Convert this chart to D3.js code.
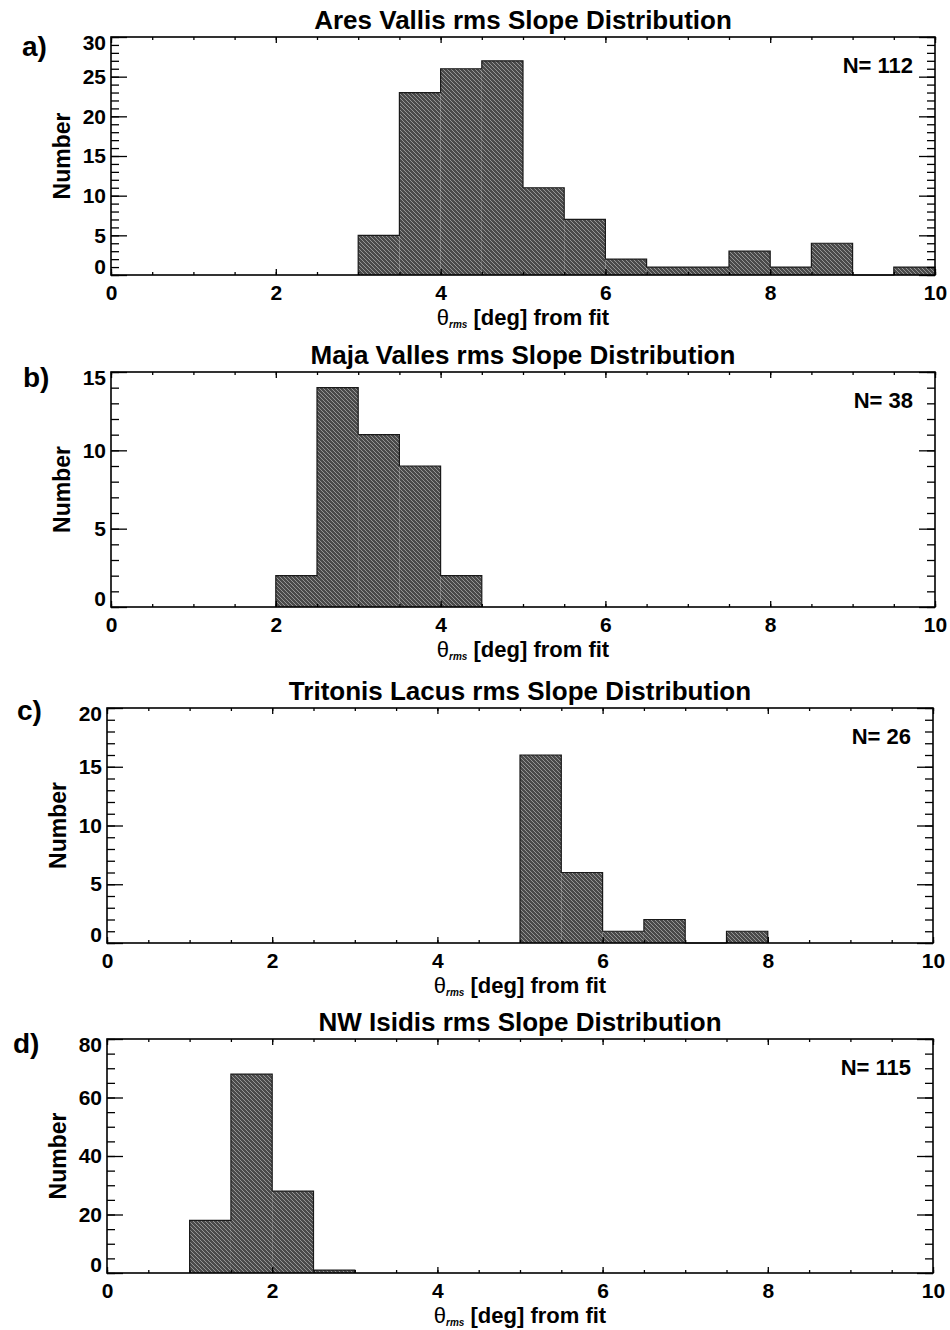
<!DOCTYPE html>
<html>
<head>
<meta charset="utf-8">
<script src="https://cdn.jsdelivr.net/npm/d3@7"></script>
<style>
  body { margin: 0; background: #fff; }
  svg text { font-family: "Liberation Sans", Arial, Helvetica, sans-serif; fill: #000; }
</style>
</head>
<body>
<div id="chart"></div>
<script>
// histogram data (bin left edges, 0.5 deg wide)
const binWidth = 0.5;

const aresBins = [3.0, 3.5, 4.0, 4.5, 5.0, 5.5, 6.0, 6.5, 7.0, 7.5, 8.0, 8.5, 9.0, 9.5];
const aresCounts = [5, 23, 26, 27, 11, 7, 2, 1, 1, 3, 1, 4, 0, 1];

const majaBins = [2.0, 2.5, 3.0, 3.5, 4.0];
const majaCounts = [2, 14, 11, 9, 2];

const tritonisBins = [5.0, 5.5, 6.0, 6.5, 7.0, 7.5];
const tritonisCounts = [16, 6, 1, 2, 0, 1];

const isidisBins = [1.0, 1.5, 2.0, 2.5];
const isidisCounts = [18, 68, 28, 1];

const titles = [
  "Ares Vallis rms Slope Distribution",
  "Maja Valles rms Slope Distribution",
  "Tritonis Lacus rms Slope Distribution",
  "NW Isidis rms Slope Distribution"
];
const tags = ["a)", "b)", "c)", "d)"];
const totals = [112, 38, 26, 115];

const xTicks = [0, 2, 4, 6, 8, 10];
const aresYTicks = [0, 5, 10, 15, 20, 25, 30];
const majaYTicks = [0, 5, 10, 15];
const tritonisYTicks = [0, 5, 10, 15, 20];
const isidisYTicks = [0, 20, 40, 60, 80];

// layout of the four stacked panels
var panels = [
  {bins: aresBins, counts: aresCounts, yTicks: aresYTicks, minor: 1, left: 111, right: 935, top: 37, h: 238, tagX: 22, tagY: 56},
  {bins: majaBins, counts: majaCounts, yTicks: majaYTicks, minor: 1, left: 111, right: 935, top: 372, h: 235, tagX: 23, tagY: 387},
  {bins: tritonisBins, counts: tritonisCounts, yTicks: tritonisYTicks, minor: 1, left: 107, right: 933, top: 708, h: 235, tagX: 17, tagY: 720},
  {bins: isidisBins, counts: isidisCounts, yTicks: isidisYTicks, minor: 5, left: 107, right: 933, top: 1039, h: 234, tagX: 13, tagY: 1053}
];

var svg = d3.select("#chart").append("svg")
  .attr("width", 950)
  .attr("height", 1330);

svg.append("rect").attr("width", 950).attr("height", 1330).attr("fill", "#fff");

// stippled grey fill like the printed histogram
var pat = svg.append("defs").append("pattern")
  .attr("id", "stipple")
  .attr("patternUnits", "userSpaceOnUse")
  .attr("width", 4).attr("height", 4);
pat.append("rect").attr("width", 4).attr("height", 4).attr("fill", "#4a4a4a");
pat.append("path")
  .attr("d", "M0,0 L4,4 M-1,3 L1,5 M3,-1 L5,1")
  .attr("stroke", "#959595").attr("stroke-width", 1);

panels.forEach(function(p, i) {
  var width = p.right - p.left;
  var height = p.h;
  var yMax = p.yTicks[p.yTicks.length - 1];

  var g = svg.append("g").attr("transform", "translate(" + p.left + "," + p.top + ")");

  var x = d3.scaleLinear().domain([0, 10]).range([0, width]);
  var y = d3.scaleLinear().domain([0, yMax]).range([height, 0]);

  var data = p.bins.map(function(b, j) { return {x0: b, n: p.counts[j]}; });

  // bars
  g.selectAll("rect.bar")
    .data(data)
    .enter()
    .append("rect")
    .attr("class", "bar")
    .attr("x", function(d) { return x(d.x0); })
    .attr("width", function(d) { return x(d.x0 + binWidth) - x(d.x0); })
    .attr("y", function(d) { return y(d.n); })
    .attr("height", function(d) { return height - y(d.n); })
    .attr("fill", "url(#stipple)");

  // outline of the histogram steps
  var pts = [{x: data[0].x0, n: 0}];
  data.forEach(function(d) { pts.push({x: d.x0, n: d.n}); });
  var last = data[data.length - 1];
  pts.push({x: last.x0 + binWidth, n: last.n});
  pts.push({x: last.x0 + binWidth, n: 0});

  g.append("path")
    .datum(pts)
    .attr("fill", "none")
    .attr("stroke", "#1a1a1a")
    .attr("stroke-width", 1.2)
    .attr("d", d3.line()
      .x(function(d) { return x(d.x); })
      .y(function(d) { return y(d.n); })
      .curve(d3.curveStepAfter));

  // minor ticks
  var yMinor = d3.range(0, yMax + 0.001, p.minor);
  var xMinor = d3.range(0, 10.001, 0.5);

  g.append("g").call(d3.axisLeft(y).tickValues(yMinor).tickSize(-8).tickFormat(""));
  g.append("g").attr("transform", "translate(" + width + ",0)")
    .call(d3.axisRight(y).tickValues(yMinor).tickSize(-8).tickFormat(""));
  g.append("g").attr("transform", "translate(0," + height + ")")
    .call(d3.axisBottom(x).tickValues(xMinor).tickSize(-3).tickFormat(""));
  g.append("g")
    .call(d3.axisTop(x).tickValues(xMinor).tickSize(-3).tickFormat(""));

  // major ticks with labels
  var yAx = g.append("g").attr("class", "yaxis")
    .call(d3.axisLeft(y).tickValues(p.yTicks).tickSize(-16).tickPadding(5).tickFormat(d3.format("d")));
  yAx.selectAll("text")
    .style("font-size", "21px").style("font-weight", "bold")
    .attr("dy", function(d) { return d === 0 ? "-0.05em" : (d === yMax ? "0.6em" : "0.32em"); });

  g.append("g").attr("transform", "translate(" + width + ",0)")
    .call(d3.axisRight(y).tickValues(p.yTicks).tickSize(-16).tickFormat(""));

  var xAx = g.append("g").attr("transform", "translate(0," + height + ")")
    .call(d3.axisBottom(x).tickValues(xTicks).tickSize(-6).tickPadding(10).tickFormat(d3.format("d")));
  xAx.selectAll("text").style("font-size", "21px").style("font-weight", "bold");

  g.append("g").call(d3.axisTop(x).tickValues(xTicks).tickSize(-6).tickFormat(""));

  g.selectAll(".domain").remove();
  g.selectAll(".tick line").attr("stroke", "#000").attr("stroke-width", 1.3);

  // frame
  g.append("rect")
    .attr("width", width).attr("height", height)
    .attr("fill", "none").attr("stroke", "#000").attr("stroke-width", 1.6);

  // title
  g.append("text")
    .attr("x", width / 2).attr("y", -8.5)
    .attr("text-anchor", "middle")
    .style("font-size", "26px").style("font-weight", "bold")
    .text(titles[i]);

  // N label
  g.append("text")
    .attr("x", width - 22).attr("y", 36)
    .attr("text-anchor", "end")
    .style("font-size", "22px").style("font-weight", "bold")
    .text("N= " + totals[i]);

  // y axis label
  g.append("text")
    .attr("transform", "translate(" + -41 + "," + (height / 2) + ") rotate(-90)")
    .attr("text-anchor", "middle")
    .style("font-size", "23px").style("font-weight", "bold")
    .text("Number");

  // x axis label
  var xt = g.append("text")
    .attr("x", width / 2).attr("y", height + 50)
    .attr("text-anchor", "middle")
    .style("font-size", "22px").style("font-weight", "bold");
  xt.append("tspan").style("font-weight", "normal").text("θ");
  xt.append("tspan").attr("dy", 3).style("font-size", "10px").style("font-style", "italic").text("rms");
  xt.append("tspan").attr("dy", -3).text(" [deg] from fit");

  // panel tag
  svg.append("text")
    .attr("x", p.tagX).attr("y", p.tagY)
    .style("font-size", "28px").style("font-weight", "bold")
    .text(tags[i]);
});
</script>
</body>
</html>
